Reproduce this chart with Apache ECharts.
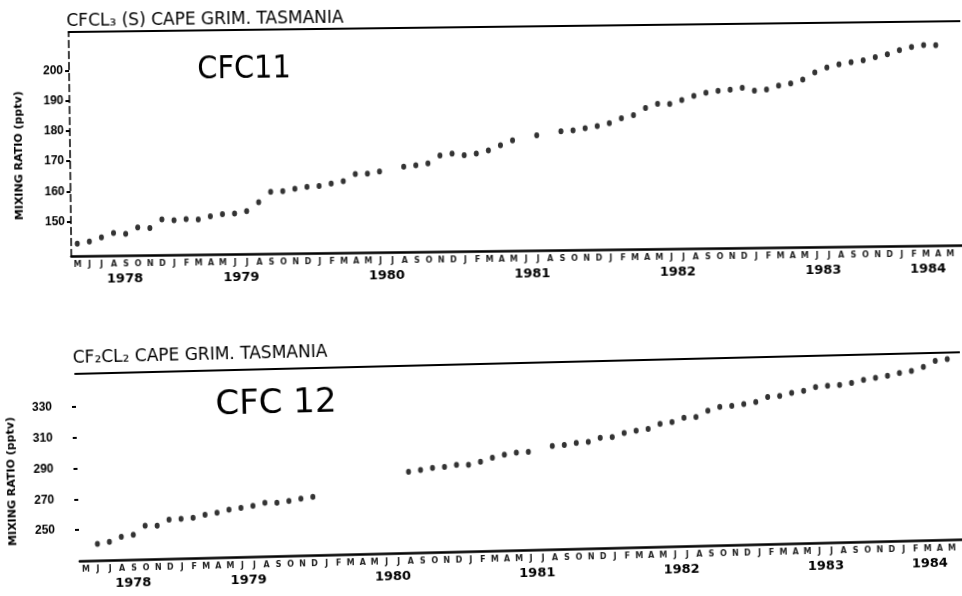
<!DOCTYPE html>
<html>
<head>
<meta charset="utf-8">
<script src="https://cdn.jsdelivr.net/npm/echarts@6/dist/echarts.min.js"></script>
<style>
  html, body { margin: 0; padding: 0; background: #fff; overflow: hidden; }
  #top { position: absolute; left: 0; top: 0; width: 962px; height: 290px; transform: rotate(-0.7deg); }
  #bottom { position: absolute; left: 0; top: 290px; width: 962px; height: 306px; transform: rotate(-1.4deg); }
</style>
</head>
<body>
<div id="top"></div>
<div id="bottom"></div>
<script>
// year labels sit in the middle of each year's stretch of axis
const yearLabels = [1978, 1979, 1980, 1981, 1982, 1983, 1984]
const yearLabelPos = [1978.7, 1979.5, 1980.5, 1981.5, 1982.5, 1983.5, 1984.22]
const monthLetters = ['J', 'F', 'M', 'A', 'M', 'J', 'J', 'A', 'S', 'O', 'N', 'D']

// monthly means, CFC-11 (pptv), starting May 1978
const cfc11Start = [1978, 5]
const cfc11 = [
  142.6, 143.3, 144.6, 146.0, 145.7, 147.8, 147.5, 150.3,
  150.0, 150.3, 150.2, 151.2, 151.8, 152.0, 152.7, 155.6, 159.0, 159.2, 159.9, 160.5,
  160.8, 161.5, 162.3, 164.6, 164.7, 165.3, null, 166.8, 167.2, 167.8, 170.4, 171.0,
  170.4, 170.9, 171.9, 173.5, 175.1, null, 176.7, null, 177.9, 178.2, 178.8, 179.5,
  180.4, 182.0, 183.0, 185.3, 186.6, 186.5, 187.8, 189.1, 190.1, 190.7, 191.0, 191.6,
  190.6, 190.9, 192.2, 192.8, 194.1, 196.4, 198.0, 199.0, 199.6, 200.2, 201.2, 202.1,
  203.4, 204.4, 205.0, 204.9
]
const cfc11Ticks = [150, 160, 170, 180, 190, 200]

// monthly means, CFC-12 (pptv), starting June 1978
const cfc12Start = [1978, 6]
const cfc12 = [
  240.6, 241.7, 244.8, 245.9, 251.6, 251.4, 255.2,
  255.6, 256.1, 257.9, 258.9, 260.7, 261.8, 262.9, 264.7, 264.5, 265.5, 266.7, 267.8,
  null, null, null, null, null, null, null, 282.6, 283.6, 284.7, 285.2, 286.3,
  286.1, 287.9, 290.3, 292.1, 293.3, 293.6, null, 297.1, 297.6, 298.7, 299.2, 301.6,
  302.0, 304.4, 305.6, 306.7, 309.7, 310.8, 313.3, 313.7, 317.5, 319.9, 320.3, 321.3,
  322.5, 325.6, 326.0, 327.8, 328.9, 331.3, 331.8, 332.2, 333.3, 335.1, 336.2, 337.4,
  339.0, 340.2, 342.6, 346.3, 347.4
]
const cfc12Ticks = [250, 270, 290, 310, 330]

const X_MIN = 1978.333
const X_MAX = 1984.464

function toPoints(start, values) {
  return values
    .map((v, i) => v == null ? null : [start[0] + (start[1] - 1 + i + 0.5) / 12, v])
    .filter(Boolean)
}

const monthPos = []
for (let y = 1978; y <= 1984; y++) {
  for (let m = 0; m < 12; m++) {
    const t = y + (m + 0.5) / 12
    if (t > X_MIN + 0.02 && t < X_MAX - 0.02) monthPos.push(t)
  }
}

function monthLetter(v) {
  const m = Math.round((v - Math.floor(v)) * 12 - 0.5)
  return monthLetters[(m + 12) % 12]
}

function yearLabel(v) {
  const i = yearLabelPos.findIndex(p => Math.abs(p - v) < 0.01)
  return i >= 0 ? String(yearLabels[i]) : ''
}

const ink = '#000'

function panelOption(cfg) {
  return {
    animation: false,
    grid: { left: cfg.left, right: 0, top: cfg.top, bottom: cfg.bottom },
    graphic: [
      {
        type: 'text', x: cfg.left - 2, y: cfg.titleY,
        style: { text: cfg.title, font: 'normal 17px "DejaVu Sans"', fill: ink, textVerticalAlign: 'middle' }
      },
      {
        type: 'text', x: cfg.handX, y: cfg.handY,
        style: { text: cfg.hand, font: cfg.handFont, fill: ink, textAlign: 'center', textVerticalAlign: 'middle' }
      },
      {
        type: 'text', x: cfg.nameX, y: cfg.nameY, rotation: Math.PI / 2,
        style: { text: 'MIXING RATIO (pptv)', font: 'bold 11px "DejaVu Sans"', fill: ink, textAlign: 'center', textVerticalAlign: 'middle' }
      }
    ],
    xAxis: [
      {
        type: 'value', min: X_MIN, max: X_MAX,
        axisLine: { show: true, onZero: false, lineStyle: { color: ink, width: 2.5 } },
        axisTick: { show: false },
        splitLine: { show: false },
        axisLabel: {
          customValues: yearLabelPos, formatter: yearLabel, margin: 17,
          fontSize: 13, fontWeight: 'bold', fontFamily: 'DejaVu Sans', color: ink
        }
      },
      {
        type: 'value', min: X_MIN, max: X_MAX, position: 'bottom',
        axisLine: { show: false }, axisTick: { show: false }, splitLine: { show: false },
        axisLabel: {
          customValues: monthPos, formatter: monthLetter, margin: 4,
          fontSize: 8, fontWeight: 'bold', fontFamily: 'DejaVu Sans', color: '#222'
        }
      },
      {
        type: 'value', min: X_MIN, max: X_MAX, position: 'top',
        axisLine: { show: true, onZero: false, lineStyle: { color: ink, width: 2 } },
        axisTick: { show: false }, axisLabel: { show: false }, splitLine: { show: false }
      }
    ],
    yAxis: {
      type: 'value', min: cfg.yMin, max: cfg.yMax,
      axisLine: { show: cfg.yLine, onZero: false, lineStyle: { color: ink, width: 1.5, type: [7, 4] } },
      axisTick: { show: true, customValues: cfg.ticks, length: 4, lineStyle: { color: ink, width: 2 } },
      splitLine: { show: false },
      axisLabel: {
        customValues: cfg.ticks, margin: cfg.labelMargin,
        fontSize: 12, fontWeight: 'bold', fontFamily: 'Liberation Sans', color: ink
      }
    },
    series: [{
      type: 'scatter',
      data: toPoints(cfg.start, cfg.values),
      symbol: 'circle',
      symbolSize: [5, 6],
      itemStyle: { color: ink }
    }]
  }
}

const topChart = echarts.init(document.getElementById('top'))
topChart.setOption(panelOption({
  left: 70, top: 27, bottom: 38.5,
  title: 'CFCL\u2083 (S) CAPE GRIM. TASMANIA', titleY: 17,
  hand: 'CFC11', handFont: 'normal 32px "DejaVu Sans Condensed"', handX: 245, handY: 67,
  nameX: 19, nameY: 150,
  yMin: 138.4, yMax: 212.8, ticks: cfc11Ticks, yLine: true, labelMargin: 6,
  start: cfc11Start, values: cfc11
}))

const bottomChart = echarts.init(document.getElementById('bottom'))
bottomChart.setOption(panelOption({
  left: 77, top: 73.5, bottom: 44.5,
  title: 'CF\u2082CL\u2082 CAPE GRIM. TASMANIA', titleY: 59,
  hand: 'CFC 12', handFont: 'normal 34px "DejaVu Sans"', handX: 277, handY: 109,
  nameX: 11, nameY: 180,
  yMin: 229.5, yMax: 351.9, ticks: cfc12Ticks, yLine: false, labelMargin: 24,
  start: cfc12Start, values: cfc12
}))
</script>
</body>
</html>
